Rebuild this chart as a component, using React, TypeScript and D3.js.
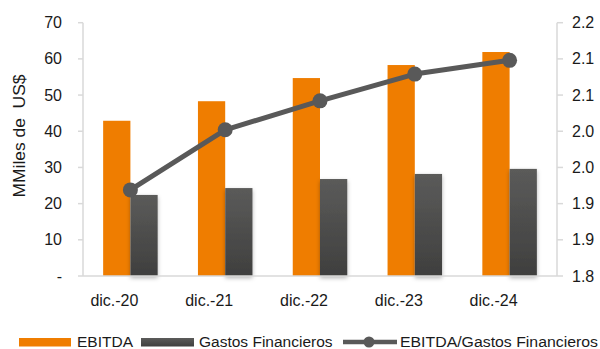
import React from "react";
import * as d3 from "d3";

const categories = ["dic.-20", "dic.-21", "dic.-22", "dic.-23", "dic.-24"];
const ebitda = [42.9, 48.3, 54.7, 58.3, 61.9];
const gastos = [22.4, 24.3, 26.8, 28.2, 29.6];
const ratio = [1.919, 2.002, 2.042, 2.079, 2.098];
const leftTicks = [0, 10, 20, 30, 40, 50, 60, 70];
const rightTicks = [1.8, 1.85, 1.9, 1.95, 2.0, 2.05, 2.1, 2.15];
const seriesNames = ["EBITDA", "Gastos Financieros", "EBITDA/Gastos Financieros"];

const W = 600;
const H = 349;
const FONT = "'Liberation Sans', Arial, sans-serif";
const ORANGE = "#EF7D00";
const GRAY = "#595959";
const AXIS = "#D9D9D9";

export default function App() {
  const left = 83, right = 557, top = 22.7, bottom = 276;
  const x0 = d3.scaleBand<string>().domain(categories).range([left, right]).paddingInner(0.425).paddingOuter(0.2125);
  const x1 = d3.scaleBand<string>().domain(["e", "g"]).range([0, x0.bandwidth()]).padding(0);
  const yL = d3.scaleLinear().domain([0, 70]).range([bottom, top]);
  const yR = d3.scaleLinear().domain([1.8, 2.15]).range([bottom, top]);
  const line = d3.line<number>()
    .x((_, i) => (x0(categories[i]) as number) + x0.bandwidth() / 2)
    .y((d) => yR(d));
  const fmtR = (v: number) => (Math.round(v * 10 + 1e-6) / 10).toFixed(1);

  return (
    <svg width={W} height={H} style={{ position: "absolute", left: 0, top: 0, background: "#fff" }} fontFamily={FONT}>
      <defs>
        <linearGradient id="gg" x1="0" y1="0" x2="0" y2="1">
          <stop offset="0" stopColor="#5B5B5A" />
          <stop offset="1" stopColor="#3F3F3E" />
        </linearGradient>
        <filter id="sh" x="-30%" y="-10%" width="160%" height="130%">
          <feDropShadow dx="0" dy="2" stdDeviation="2" floodColor="#000" floodOpacity="0.3" />
        </filter>
      </defs>

      {/* bars */}
      {categories.map((c, i) => (
        <g key={c}>
          <rect x={(x0(c) as number) + (x1("e") as number)} y={yL(ebitda[i])} width={x1.bandwidth()} height={bottom - yL(ebitda[i])} fill={ORANGE} />
          <rect x={(x0(c) as number) + (x1("g") as number)} y={yL(gastos[i])} width={x1.bandwidth()} height={bottom - yL(gastos[i])} fill="url(#gg)" filter="url(#sh)" />
        </g>
      ))}

      {/* axes */}
      <line x1={left} x2={right} y1={bottom} y2={bottom} stroke={AXIS} strokeWidth={1.5} />
      <line x1={left} x2={left} y1={top} y2={bottom} stroke={AXIS} strokeWidth={1.5} />
      <line x1={right} x2={right} y1={top} y2={bottom} stroke={AXIS} strokeWidth={1.5} />
      {leftTicks.map((t) => (
        <g key={"l" + t}>
          <line x1={left - 5} x2={left} y1={yL(t)} y2={yL(t)} stroke={AXIS} strokeWidth={1.5} />
          <text x={62} y={yL(t)} dy="0.35em" textAnchor="end" fontSize={16} fill="#1a1a1a">{t === 0 ? "-" : t}</text>
        </g>
      ))}
      {rightTicks.map((t) => (
        <g key={"r" + t}>
          <line x1={right} x2={right + 6} y1={yR(t)} y2={yR(t)} stroke={AXIS} strokeWidth={1.5} />
          <text x={572} y={yR(t)} dy="0.35em" textAnchor="start" fontSize={16} fill="#1a1a1a">{fmtR(t)}</text>
        </g>
      ))}
      {categories.map((c) => (
        <text key={"c" + c} x={(x0(c) as number) + x0.bandwidth() / 2 - 16} y={306} textAnchor="middle" fontSize={16} fill="#1a1a1a">{c}</text>
      ))}
      <text transform={`translate(25,136) rotate(-90)`} textAnchor="middle" fontSize={16} fill="#1a1a1a" textLength={123} lengthAdjust="spacingAndGlyphs" style={{ whiteSpace: "pre" }}>{"MMiles de  US$"}</text>

      {/* line */}
      <path d={line(ratio) || ""} fill="none" stroke={GRAY} strokeWidth={5} strokeLinejoin="round" />
      {ratio.map((r, i) => (
        <circle key={"p" + i} cx={(x0(categories[i]) as number) + x0.bandwidth() / 2} cy={yR(r)} r={7.5} fill={GRAY} />
      ))}

      {/* legend */}
      <rect x={19} y={338} width={52} height={8.5} fill={ORANGE} />
      <text x={77} y={346.5} fontSize={15.5} fill="#1a1a1a">{seriesNames[0]}</text>
      <rect x={141} y={338} width={53} height={8.5} fill="url(#gg)" />
      <text x={199} y={346.5} fontSize={15.5} fill="#1a1a1a">{seriesNames[1]}</text>
      <line x1={343} x2={397} y1={342} y2={342} stroke={GRAY} strokeWidth={4.5} />
      <circle cx={369} cy={342} r={5.5} fill={GRAY} />
      <text x={400} y={346.5} fontSize={15.5} fill="#1a1a1a" textLength={198} lengthAdjust="spacingAndGlyphs">{seriesNames[2]}</text>
    </svg>
  );
}
